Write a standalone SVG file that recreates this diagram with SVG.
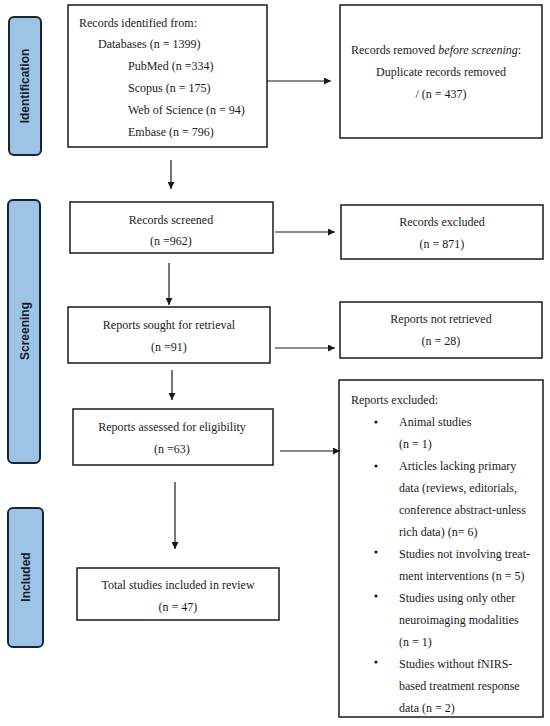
<svg xmlns="http://www.w3.org/2000/svg" width="550" height="726" viewBox="0 0 550 726">
<style>
.box{fill:#fff;stroke:#1a1a1a;stroke-width:1.5}
.side{fill:#9dc3e6;stroke:#1a2530;stroke-width:2}
.t{font-family:"Liberation Serif","Times New Roman",serif;font-size:12px;fill:#1a1a1a}
.c{text-anchor:middle}
.s{font-family:"Liberation Sans",Arial,sans-serif;font-size:12px;font-weight:bold;fill:#1a1a2a;text-anchor:middle}
.ln{stroke:#1a1a1a;stroke-width:1.2;fill:none}
</style>
<defs>
<marker id="ah" viewBox="0 0 10 10" refX="10" refY="5" markerWidth="7" markerHeight="7" markerUnits="userSpaceOnUse" orient="auto">
<path d="M0,0 L10,5 L0,10 z" fill="#1a1a1a"/>
</marker>
</defs>
<rect width="550" height="726" fill="#fff"/>
<g id="side-identification">
<rect class="side" x="9" y="17" width="32" height="138" rx="5"/>
<text class="s" transform="translate(29,86) rotate(-90)">Identification</text>
</g>
<g id="side-screening">
<rect class="side" x="8" y="200" width="32" height="263" rx="5"/>
<text class="s" transform="translate(28.5,331) rotate(-90)">Screening</text>
</g>
<g id="side-included">
<rect class="side" x="8" y="508" width="35" height="139" rx="5"/>
<text class="s" transform="translate(30,577) rotate(-90)">Included</text>
</g>
<g id="records-identified">
<rect class="box" x="68" y="5" width="199" height="142"/>
<text class="t" x="79" y="27">Records identified from:</text>
<text class="t" x="98" y="48">Databases (n = 1399)</text>
<text class="t" x="128" y="70">PubMed (n =334)</text>
<text class="t" x="128" y="92">Scopus (n = 175)</text>
<text class="t" x="128" y="114">Web of Science (n = 94)</text>
<text class="t" x="128" y="136">Embase (n = 796)</text>
</g>
<g id="records-removed">
<rect class="box" x="340" y="5" width="202" height="133"/>
<text class="t" x="351" y="54">Records removed <tspan font-style="italic">before screening</tspan>:</text>
<text class="t c" x="441" y="76">Duplicate records removed</text>
<text class="t c" x="441" y="98">/ (n = 437)</text>
</g>
<g id="records-screened">
<rect class="box" x="70" y="202" width="203" height="51"/>
<text class="t c" x="171" y="224">Records screened</text>
<text class="t c" x="171" y="245">(n =962)</text>
</g>
<g id="records-excluded">
<rect class="box" x="341" y="205" width="202" height="54"/>
<text class="t c" x="442" y="226">Records excluded</text>
<text class="t c" x="442" y="248">(n = 871)</text>
</g>
<g id="reports-sought">
<rect class="box" x="68" y="307" width="202" height="56"/>
<text class="t c" x="169" y="329">Reports sought for retrieval</text>
<text class="t c" x="169" y="351">(n =91)</text>
</g>
<g id="reports-not-retrieved">
<rect class="box" x="340" y="302" width="202" height="56"/>
<text class="t c" x="441" y="323">Reports not retrieved</text>
<text class="t c" x="441" y="345">(n = 28)</text>
</g>
<g id="reports-assessed">
<rect class="box" x="73" y="409" width="200" height="56"/>
<text class="t c" x="172" y="431">Reports assessed for eligibility</text>
<text class="t c" x="172" y="453">(n =63)</text>
</g>
<g id="reports-excluded">
<rect class="box" x="339" y="380" width="204" height="337"/>
<text class="t" x="351" y="404">Reports excluded:</text>
<g class="t">
<circle cx="376" cy="422" r="1.6" fill="#1a1a1a"/>
<circle cx="376" cy="466" r="1.6" fill="#1a1a1a"/>
<circle cx="376" cy="552" r="1.6" fill="#1a1a1a"/>
<circle cx="376" cy="596" r="1.6" fill="#1a1a1a"/>
<circle cx="376" cy="662" r="1.6" fill="#1a1a1a"/>
</g>
<text class="t" x="399" y="426">Animal studies</text>
<text class="t" x="399" y="448">(n = 1)</text>
<text class="t" x="399" y="470">Articles lacking primary</text>
<text class="t" x="399" y="492">data (reviews, editorials,</text>
<text class="t" x="399" y="514">conference abstract-unless</text>
<text class="t" x="399" y="536">rich data) (n= 6)</text>
<text class="t" x="399" y="558">Studies not involving treat-</text>
<text class="t" x="399" y="580">ment interventions (n = 5)</text>
<text class="t" x="399" y="602">Studies using only other</text>
<text class="t" x="399" y="624">neuroimaging modalities</text>
<text class="t" x="399" y="646">(n = 1)</text>
<text class="t" x="399" y="668">Studies without fNIRS-</text>
<text class="t" x="399" y="690">based treatment response</text>
<text class="t" x="399" y="712">data (n = 2)</text>
</g>
<g id="total-included">
<rect class="box" x="77" y="568" width="202" height="52"/>
<text class="t c" x="178" y="589">Total studies included in review</text>
<text class="t c" x="178" y="611">(n = 47)</text>
</g>
<g id="connectors">
<line class="ln" x1="267" y1="81" x2="331" y2="81" marker-end="url(#ah)"/>
<line class="ln" x1="171" y1="160" x2="171" y2="189" marker-end="url(#ah)"/>
<line class="ln" x1="275" y1="232" x2="335" y2="232" marker-end="url(#ah)"/>
<line class="ln" x1="169" y1="263" x2="169" y2="305" marker-end="url(#ah)"/>
<line class="ln" x1="275" y1="348" x2="335" y2="348" marker-end="url(#ah)"/>
<line class="ln" x1="172" y1="370" x2="172" y2="400" marker-end="url(#ah)"/>
<line class="ln" x1="280" y1="451" x2="340" y2="451" marker-end="url(#ah)"/>
<line class="ln" x1="175" y1="482" x2="175" y2="549" marker-end="url(#ah)"/>
</g>
</svg>
